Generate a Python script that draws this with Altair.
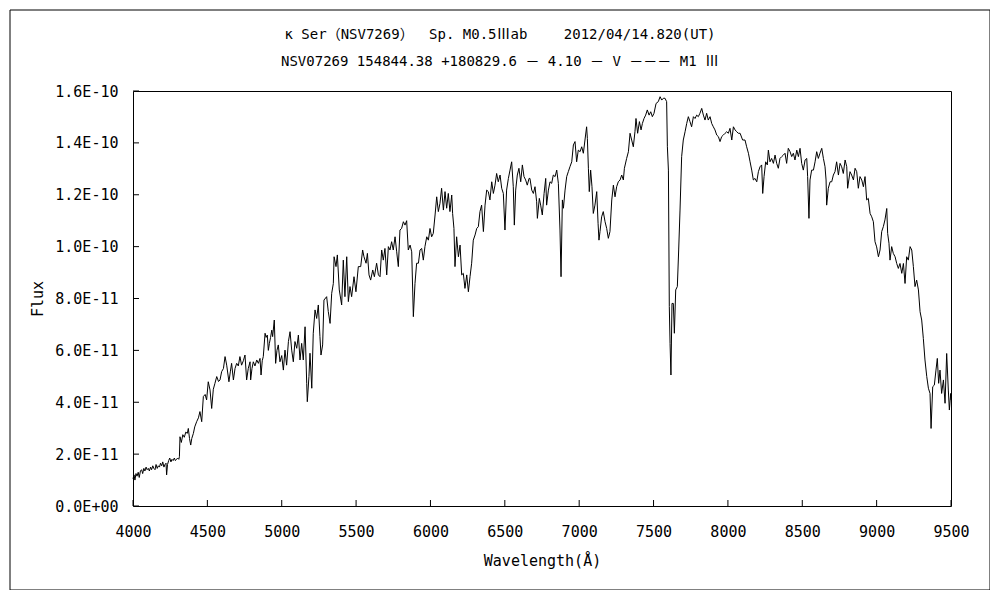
import json
import altair as alt
import pandas as pd

# ---------------- data (flux in units of 1e-11) ----------------
seg_a_wl = [4000, 4007, 4013, 4020, 4027, 4035, 4042, 4050, 4058, 4065, 4073, 4080, 4088, 4095, 4103,
            4110, 4118, 4125, 4133, 4140, 4148, 4155, 4163, 4170, 4178, 4185, 4193, 4200, 4208, 4215,
            4222, 4226, 4232, 4240, 4247, 4255, 4262, 4270, 4278, 4285, 4293, 4300, 4308, 4312]
seg_a_fx = [1.05, 1.20, 1.00, 1.25, 1.15, 1.30, 1.10, 1.35, 1.40, 1.25, 1.45, 1.35, 1.50, 1.40, 1.45,
            1.35, 1.50, 1.40, 1.55, 1.45, 1.40, 1.60, 1.45, 1.55, 1.50, 1.65, 1.55, 1.70, 1.50, 1.60,
            1.65, 1.20, 1.60, 1.75, 1.85, 1.70, 1.80, 1.75, 1.85, 1.75, 1.80, 1.85, 1.80, 1.90]

seg_b_wl = [4316, 4325, 4335, 4345, 4355, 4365, 4372, 4380, 4388, 4395,
            4406, 4415, 4428, 4440, 4450, 4462, 4473, 4485, 4495, 4506,
            4518, 4529, 4540, 4551, 4563, 4575, 4585, 4596, 4608, 4619,
            4630, 4645, 4655, 4663, 4675, 4686, 4697, 4708, 4719, 4730,
            4742, 4753, 4764, 4775, 4787, 4791, 4800, 4809, 4820, 4832,
            4843, 4854, 4861, 4869, 4876, 4888, 4895, 4903, 4910, 4917,
            4925, 4933, 4939, 4950, 4959, 4968, 4977, 4988, 5000, 5011,
            5022, 5033, 5045, 5056, 5067, 5078, 5089, 5101, 5112, 5123,
            5134, 5145, 5157, 5168, 5172, 5183, 5190, 5202, 5212, 5224,
            5235, 5246, 5257, 5264, 5275, 5284, 5302, 5313, 5325]
seg_b_fx = [2.67, 2.45, 2.75, 2.65, 2.85, 2.80, 2.99, 2.60, 2.35, 2.60,
            2.80, 3.05, 3.25, 3.40, 3.64, 3.25, 4.22, 4.30, 4.09, 4.79,
            4.47, 3.76, 4.50, 4.73, 4.99, 4.80, 4.86, 5.18, 5.30, 5.76,
            5.43, 4.79, 5.20, 5.50, 4.86, 5.30, 5.50, 5.40, 5.76, 5.43,
            5.60, 5.82, 4.86, 5.30, 5.56, 4.86, 5.30, 5.56, 5.40, 5.63,
            5.50, 5.69, 5.05, 5.60, 5.76, 6.66, 6.50, 6.59, 6.00, 6.27,
            6.50, 6.78, 6.53, 7.17, 5.50, 6.00, 6.21, 5.56, 5.80, 5.24,
            6.01, 5.43, 6.34, 6.72, 6.01, 5.56, 6.34, 6.08, 6.59, 5.63,
            6.27, 5.63, 6.91, 4.73, 4.02, 4.99, 5.89, 4.54, 6.66, 7.56,
            7.23, 7.75, 6.53, 5.82, 6.21, 7.94, 8.07, 7.50, 7.04]

seg_c_wl = [5336, 5347, 5352, 5365, 5374, 5387, 5403, 5414, 5425, 5437,
            5448, 5459, 5470, 5486, 5499, 5515, 5531, 5544, 5553, 5567,
            5576, 5587, 5598, 5612, 5623, 5638, 5650, 5661, 5672, 5683,
            5694, 5706, 5717, 5728, 5739, 5750, 5762, 5773, 5784, 5795,
            5806, 5818, 5829, 5840, 5851, 5863, 5874, 5885, 5896, 5907,
            5919, 5930, 5941, 5952, 5963, 5975, 5986, 5997, 6008, 6019,
            6031, 6042, 6053, 6064, 6075, 6087, 6098, 6109, 6120, 6131,
            6143, 6149, 6158, 6165, 6176, 6188, 6199, 6210, 6221, 6232,
            6244, 6255, 6266, 6277, 6288, 6300, 6311, 6322, 6333, 6344,
            6356, 6367, 6378, 6389, 6400, 6412, 6423, 6434, 6445, 6456,
            6468, 6479, 6490, 6501, 6512, 6524, 6535, 6546, 6557, 6564,
            6573, 6584, 6595, 6607, 6618, 6629, 6640, 6651, 6663]
seg_c_fx = [8.20, 8.58, 9.61, 9.23, 9.68, 8.33, 7.75, 9.48, 8.07, 9.61,
            7.88, 8.46, 8.07, 8.84, 8.26, 9.23, 9.23, 9.87, 9.61, 9.36,
            9.74, 8.91, 8.71, 9.10, 8.84, 9.36, 8.91, 8.84, 9.87, 9.48,
            9.93, 8.91, 10.00, 9.87, 10.19, 9.87, 10.38, 9.80, 9.23, 10.64,
            10.70, 10.96, 10.83, 11.00, 9.87, 10.06, 9.80, 7.30, 8.58, 9.36,
            9.36, 9.87, 9.93, 9.48, 10.00, 10.38, 10.25, 10.70, 10.38, 10.51,
            11.22, 11.92, 11.35, 11.67, 12.25, 11.41, 12.12, 11.48, 12.05, 11.35,
            11.99, 11.28, 10.70, 9.23, 10.38, 9.61, 10.06, 8.91, 8.97, 8.39,
            8.91, 8.26, 8.84, 9.36, 10.25, 10.45, 10.70, 10.77, 11.35, 11.60,
            10.58, 11.60, 12.18, 12.12, 11.80, 12.50, 12.05, 12.37, 12.82, 12.50,
            12.76, 12.25, 12.05, 10.64, 12.18, 12.63, 12.95, 13.27, 12.31, 10.83,
            12.18, 12.76, 13.02, 12.50, 13.15, 12.70, 12.57, 12.37, 12.63]

seg_d_wl = [6669, 6681, 6692, 6703, 6714, 6719, 6732, 6741, 6752, 6764,
            6775, 6781, 6793, 6804, 6815, 6826, 6838, 6849, 6860, 6871,
            6878, 6887, 6894, 6905, 6916, 6927, 6938, 6950, 6961, 6972,
            6983, 6994, 7006, 7017, 7028, 7039, 7050, 7055, 7062, 7068,
            7077, 7086, 7095, 7106, 7118, 7127, 7133, 7140, 7151, 7162,
            7174, 7185, 7196, 7207, 7219, 7230, 7241, 7252, 7263, 7275,
            7286, 7297, 7304, 7319, 7331, 7342, 7353, 7364, 7375, 7382,
            7393, 7405, 7416, 7425, 7436, 7447, 7458, 7470, 7481, 7492,
            7503, 7517, 7532, 7544, 7555, 7566, 7577, 7588, 7593, 7600,
            7606, 7611, 7617, 7624, 7633, 7640, 7649, 7660, 7669, 7678,
            7689, 7700, 7712, 7723, 7734, 7745, 7756, 7768, 7779, 7790,
            7801, 7812, 7824, 7835, 7846, 7857, 7868, 7880, 7891, 7902,
            7913, 7925, 7936, 7947, 7958, 7969, 7981, 7992, 8003, 8014,
            8026, 8037, 8048, 8059, 8070]
seg_d_fx = [12.63, 12.18, 12.05, 12.31, 11.73, 11.09, 11.86, 11.60, 11.22, 12.05,
            12.63, 11.60, 12.18, 12.50, 12.44, 12.76, 12.70, 12.95, 12.44, 10.64,
            8.84, 11.80, 11.48, 12.18, 12.70, 12.89, 13.08, 13.27, 13.92, 14.05,
            13.27, 13.72, 13.66, 13.85, 13.60, 14.11, 14.62, 14.17, 13.02, 12.12,
            12.95, 12.31, 11.28, 11.60, 12.12, 10.90, 10.25, 10.58, 11.15, 11.35,
            10.96, 10.70, 10.32, 10.58, 11.80, 12.37, 11.92, 12.31, 12.50, 12.57,
            12.76, 12.57, 13.02, 13.40, 13.66, 14.37, 14.11, 13.85, 14.43, 14.94,
            14.37, 14.82, 14.50, 14.75, 14.94, 15.07, 15.27, 15.07, 15.20, 15.01,
            15.14, 15.52, 15.59, 15.78, 15.65, 15.72, 15.72, 15.59, 13.85, 12.95,
            7.69, 6.27, 5.05, 7.81, 7.81, 6.66, 8.33, 8.46, 9.87, 11.41,
            13.47, 14.11, 14.43, 14.75, 15.01, 14.82, 14.62, 15.01, 14.94, 15.07,
            15.01, 15.14, 15.33, 15.07, 14.88, 15.14, 14.88, 15.01, 14.75, 14.62,
            14.50, 14.30, 14.24, 14.05, 14.24, 14.30, 14.37, 14.43, 14.37, 14.56,
            14.11, 14.62, 14.50, 14.43, 14.37]

seg_e_wl = [8082, 8099, 8115, 8126, 8138, 8149, 8160, 8171, 8182, 8194,
            8205, 8216, 8227, 8234, 8243, 8254, 8265, 8272, 8283, 8294,
            8306, 8317, 8328, 8339, 8350, 8362, 8373, 8384, 8395, 8406,
            8418, 8429, 8440, 8451, 8463, 8474, 8485, 8496, 8507, 8519,
            8530, 8536, 8545, 8552, 8563, 8575, 8586, 8597, 8608, 8619,
            8631, 8642, 8653, 8660, 8664, 8675, 8687, 8698, 8709, 8720,
            8731, 8743, 8754, 8765, 8776, 8788, 8799, 8805, 8821, 8832,
            8844, 8855, 8866, 8877, 8888, 8900, 8911, 8922, 8933, 8944,
            8956, 8967, 8978, 8989, 9000, 9012, 9023, 9034, 9045, 9056,
            9068, 9074, 9083, 9090, 9101, 9112, 9124, 9135, 9146, 9157,
            9169, 9180, 9191, 9202, 9213, 9225, 9236, 9247, 9258, 9269,
            9281, 9292, 9303, 9314, 9325, 9337, 9348, 9359, 9366, 9377,
            9388, 9399, 9408, 9417, 9426, 9437, 9449, 9460, 9471, 9482,
            9489, 9498, 9500]
seg_e_fx = [14.37, 14.11, 14.11, 13.85, 13.60, 13.27, 12.95, 12.57, 12.63, 12.50,
            12.89, 13.08, 13.15, 12.05, 12.70, 13.27, 13.15, 13.72, 13.27, 13.40,
            13.21, 13.53, 13.21, 13.02, 13.40, 13.47, 13.53, 13.60, 13.21, 13.79,
            13.66, 13.47, 13.60, 13.34, 13.72, 13.47, 13.79, 13.21, 12.95, 13.34,
            13.40, 12.70, 11.09, 12.57, 12.95, 12.95, 13.27, 13.66, 13.40, 13.60,
            13.79, 13.40, 13.08, 12.57, 11.60, 12.25, 12.50, 12.50, 12.76, 12.89,
            13.27, 12.76, 13.21, 13.08, 12.82, 13.34, 13.08, 12.25, 12.89, 12.76,
            12.57, 13.02, 12.89, 12.25, 12.70, 12.57, 12.31, 12.70, 11.80, 11.86,
            11.28, 11.15, 10.96, 10.19, 9.99, 9.61, 9.87, 10.58, 10.77, 11.03,
            11.47, 10.51, 10.13, 9.48, 10.00, 9.74, 9.61, 9.35, 9.16, 9.35,
            8.97, 9.35, 8.58, 9.61, 9.48, 10.00, 9.87, 9.23, 8.46, 8.71,
            8.33, 7.49, 7.17, 6.46, 5.63, 4.99, 4.54, 4.34, 2.99, 4.60,
            4.66, 5.24, 5.69, 4.73, 5.24, 4.34, 4.86, 3.96, 5.88, 4.47,
            3.70, 4.34, 4.09]

x_ticks = [4000, 4500, 5000, 5500, 6000, 6500, 7000, 7500, 8000, 8500, 9000, 9500]
y_ticks = [0, 2, 4, 6, 8, 10, 12, 14, 16]
y_labels = ["0.0E+00", "2.0E-11", "4.0E-11", "6.0E-11", "8.0E-11",
            "1.0E-10", "1.2E-10", "1.4E-10", "1.6E-10"]

title_line1 = "κ Ser（NSV7269）　  Sp. M0.5Ⅲab　　 2012/04/14.820(UT)"
title_line2 = "NSV07269 154844.38 +180829.6 － 4.10 － V －－－ M1 Ⅲ"

# ---------------- build ----------------
wl = seg_a_wl + seg_b_wl + seg_c_wl + seg_d_wl + seg_e_wl
fx = seg_a_fx + seg_b_fx + seg_c_fx + seg_d_fx + seg_e_fx
n = min(len(wl), len(fx))
df = pd.DataFrame({"wavelength": wl[:n], "flux": fx[:n]})

W, H = 818, 415
FONT = "DejaVu Sans Mono, Noto Sans CJK JP"
FS = 15

xscale = alt.Scale(domain=[4000, 9500], nice=False, zero=False)
yscale = alt.Scale(domain=[0, 16], nice=False, zero=False)

label_expr = json.dumps(y_labels) + "[round(datum.value / 2)]"

x_axis = alt.Axis(values=x_ticks, format="d", title="Wavelength(Å)", grid=False,
                  ticks=False, domain=False, labelPadding=18, labelFont=FONT,
                  labelFontSize=FS, labelColor="black", titleFont=FONT,
                  titleFontSize=FS, titleFontWeight="normal", titleColor="black",
                  titlePadding=14, labelFlush=False)
y_axis = alt.Axis(values=y_ticks, labelExpr=label_expr, title="Flux", grid=False,
                  ticks=False, domain=False, labelPadding=15, labelFont=FONT,
                  labelFontSize=FS, labelColor="black", titleFont=FONT,
                  titleFontSize=FS, titleFontWeight="normal", titleColor="black",
                  titlePadding=9)

line = alt.Chart(df).mark_line(color="black", strokeWidth=1).encode(
    x=alt.X("wavelength:Q", scale=xscale, axis=x_axis),
    y=alt.Y("flux:Q", scale=yscale, axis=y_axis),
)

ytick_df = pd.DataFrame({"flux": y_ticks})
xtick_df = pd.DataFrame({"wavelength": x_ticks})

yticks = alt.Chart(ytick_df).mark_rule(color="black", strokeWidth=1).encode(
    y=alt.Y("flux:Q", scale=yscale, axis=y_axis), x=alt.value(0), x2=alt.value(6))
xticks = alt.Chart(xtick_df).mark_rule(color="black", strokeWidth=1).encode(
    x=alt.X("wavelength:Q", scale=xscale, axis=x_axis), y=alt.value(H), y2=alt.value(H - 6))

one = pd.DataFrame({"a": [0]})
title1 = alt.Chart(one).mark_text(font=FONT, fontSize=14, color="black", align="center",
                                  baseline="middle", text=title_line1).encode(
    x=alt.value(367), y=alt.value(-56))
title2 = alt.Chart(one).mark_text(font=FONT, fontSize=14, color="black", align="center",
                                  baseline="middle", text=title_line2).encode(
    x=alt.value(367), y=alt.value(-29))

frame = alt.Chart(one).mark_rect(fillOpacity=0, stroke="black", strokeWidth=1).encode(
    x=alt.value(-123), x2=alt.value(857), y=alt.value(-81), y2=alt.value(499))

chart = alt.layer(line, yticks, xticks, title1, title2, frame).properties(
    width=W, height=H,
    background="white",
    autosize=alt.AutoSizeParams(type="none"),
    padding={"left": 125, "top": 83, "right": 39, "bottom": 84},
).configure_view(stroke="black", strokeWidth=1)

chart.save("out.html", embed_options={"renderer": "svg", "actions": False})
